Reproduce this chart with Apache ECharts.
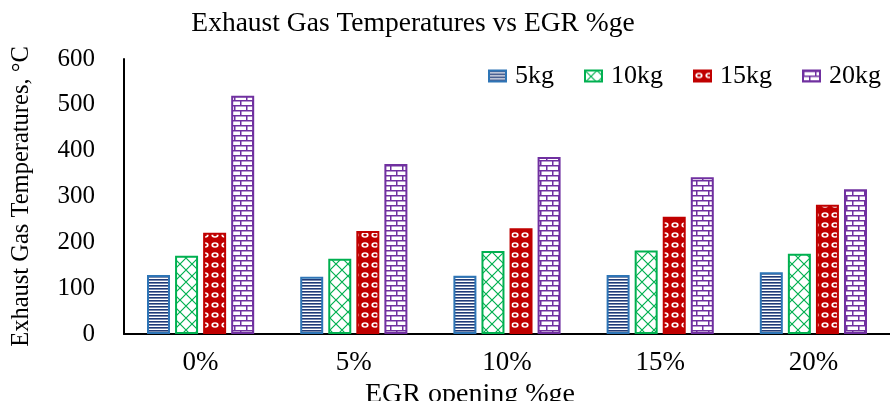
<!DOCTYPE html>
<html>
<head>
<meta charset="utf-8">
<script src="https://cdn.jsdelivr.net/npm/echarts@6/dist/echarts.min.js"></script>
<style>
html,body{margin:0;padding:0;background:#fff;}
#chart{width:890px;height:401px;}
</style>
</head>
<body>
<div id="chart"></div>
<script>
const categories = ['0%', '5%', '10%', '15%', '20%'];
const seriesNames = ['5kg', '10kg', '15kg', '20kg'];
const values5kg  = [129, 125, 127, 129, 135];
const values10kg = [171, 164, 181, 182, 175];
const values15kg = [221, 225, 231, 256, 282];
const values20kg = [520, 371, 386, 342, 316];
const yTicks = [0, 100, 200, 300, 400, 500, 600];

const FONT = '"Liberation Serif", "Times New Roman", serif';

function makeCanvas(w, h, draw) {
  const c = document.createElement('canvas');
  c.width = w; c.height = h;
  const ctx = c.getContext('2d');
  draw(ctx, w, h);
  return c;
}

// 5kg: horizontal navy lines on white
const pat5 = makeCanvas(6, 3, (ctx, w, h) => {
  ctx.fillStyle = '#ffffff'; ctx.fillRect(0, 0, w, h);
  ctx.fillStyle = '#1F3A78'; ctx.fillRect(0, 0, w, 1.6);
});
// 10kg: green diamond lattice
const pat10 = makeCanvas(12, 12, (ctx, w, h) => {
  ctx.fillStyle = '#ffffff'; ctx.fillRect(0, 0, w, h);
  ctx.strokeStyle = '#00B050'; ctx.lineWidth = 1.2;
  ctx.beginPath();
  ctx.moveTo(0, 0); ctx.lineTo(w, h);
  ctx.moveTo(w, 0); ctx.lineTo(0, h);
  ctx.stroke();
});
// 15kg: red with white ring-like holes
const pat15 = makeCanvas(10, 10, (ctx, w, h) => {
  ctx.fillStyle = '#C00000'; ctx.fillRect(0, 0, w, h);
  ctx.fillStyle = '#ffffff';
  ctx.beginPath(); ctx.ellipse(5, 5, 3.6, 2.8, 0, 0, Math.PI * 2); ctx.fill();
  ctx.fillStyle = '#C00000';
  ctx.beginPath(); ctx.ellipse(5, 5, 1.8, 1.2, 0, 0, Math.PI * 2); ctx.fill();
});
// 20kg: purple bricks
const pat20 = makeCanvas(12, 10, (ctx, w, h) => {
  ctx.fillStyle = '#ffffff'; ctx.fillRect(0, 0, w, h);
  ctx.fillStyle = '#7030A0';
  ctx.fillRect(0, 0, w, 1.5);
  ctx.fillRect(0, 5, w, 1.5);
  ctx.fillRect(0, 0, 1.5, 5);
  ctx.fillRect(6, 5, 1.5, 5);
});

const styles = [
  { pattern: pat5, border: '#2E75B6' },
  { pattern: pat10, border: '#00B050' },
  { pattern: pat15, border: '#C00000' },
  { pattern: pat20, border: '#7030A0' }
];
const allValues = [values5kg, values10kg, values15kg, values20kg];

const chart = echarts.init(document.getElementById('chart'), null, { renderer: 'canvas' });
chart.setOption({
  animation: false,
  backgroundColor: '#ffffff',
  title: {
    text: 'Exhaust Gas Temperatures vs EGR %ge',
    left: 408, textAlign: 'center', top: 5,
    textStyle: { fontFamily: FONT, fontSize: 27.5, fontWeight: 'normal', color: '#000' }
  },
  legend: {
    right: 4, top: 58,
    itemWidth: 17, itemHeight: 11, itemGap: 30,
    icon: 'rect',
    textStyle: { fontFamily: FONT, fontSize: 26, color: '#000', padding: [0, 0, 0, 4] },
    data: seriesNames
  },
  grid: { left: 124, right: 0, top: 59, bottom: 67, containLabel: false, outerBoundsMode: 'none' },
  xAxis: {
    type: 'category',
    data: categories,
    name: 'EGR opening %ge',
    nameLocation: 'middle',
    nameGap: 40,
    nameTextStyle: { fontFamily: FONT, fontSize: 28, color: '#000', padding: [0, 74, 0, 0] },
    axisLine: { lineStyle: { color: '#000', width: 2 } },
    axisTick: { show: false },
    axisLabel: { fontFamily: FONT, fontSize: 27, color: '#000', margin: 15 }
  },
  yAxis: {
    type: 'value',
    min: yTicks[0], max: yTicks[yTicks.length - 1], interval: 100,
    name: 'Exhaust Gas Temperatures, °C',
    nameLocation: 'middle',
    nameGap: 90,
    nameTextStyle: { fontFamily: FONT, fontSize: 24.5, color: '#000' },
    axisLine: { show: true, lineStyle: { color: '#000', width: 2 } },
    axisTick: { show: false },
    splitLine: { show: false },
    axisLabel: { fontFamily: FONT, fontSize: 25, color: '#000', margin: 29 }
  },
  series: seriesNames.map((n, i) => ({
    name: n,
    type: 'bar',
    data: allValues[i],
    barWidth: 23,
    barGap: '22%',
    itemStyle: {
      color: { image: styles[i].pattern, repeat: 'repeat' },
      borderColor: styles[i].border,
      borderWidth: 2
    }
  }))
});
</script>
</body>
</html>
